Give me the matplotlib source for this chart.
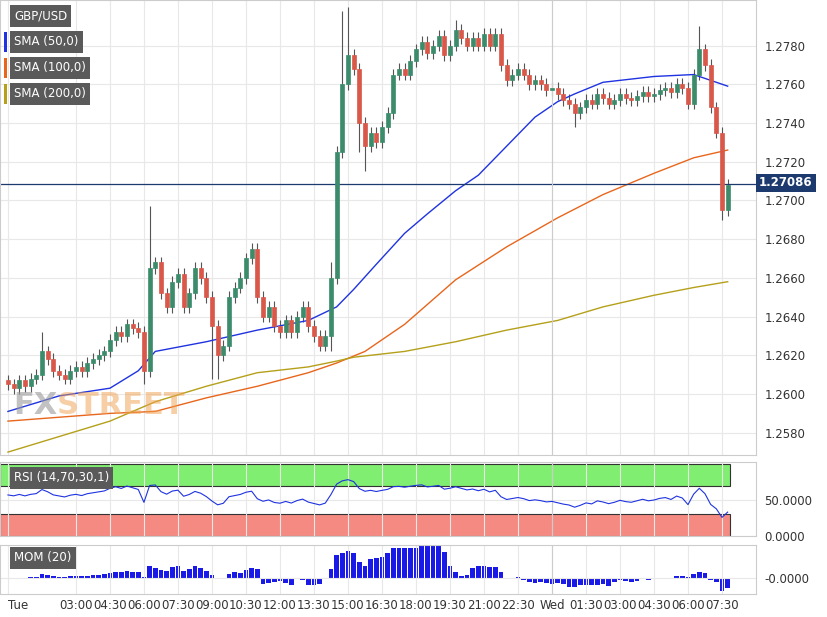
import matplotlib
matplotlib.use("Agg")
import matplotlib.pyplot as plt
import numpy as np
from matplotlib.patches import Rectangle

closes = [1.2605,1.2603,1.2607,1.2604,1.2608,1.2610,1.2622,1.2618,1.2612,1.2610,1.2608,1.2612,
 1.2614,1.2612,1.2616,1.2618,1.2620,1.2622,1.2628,1.2632,1.2630,1.2636,1.2634,1.2632,
 1.2612,1.2665,1.2668,1.2652,1.2645,1.2658,1.2662,1.2645,1.2652,1.2665,1.2660,1.2650,
 1.2635,1.2620,1.2625,1.2650,1.2655,1.2660,1.2670,1.2675,1.2650,1.2640,1.2645,1.2635,
 1.2632,1.2638,1.2632,1.2640,1.2645,1.2635,1.2630,1.2625,1.2630,1.2660,1.2725,1.2760,
 1.2775,1.2768,1.2740,1.2728,1.2735,1.2730,1.2738,1.2745,1.2765,1.2768,1.2765,1.2772,
 1.2778,1.2782,1.2776,1.2780,1.2785,1.2775,1.2780,1.2788,1.2784,1.2780,1.2784,1.2780,
 1.2786,1.2780,1.2786,1.2770,1.2762,1.2765,1.2768,1.2765,1.2760,1.2762,1.2760,1.2757,
 1.2758,1.2755,1.2752,1.2750,1.2745,1.2748,1.2752,1.2750,1.2755,1.2753,1.2750,1.2752,
 1.2755,1.2753,1.2752,1.2754,1.2756,1.2754,1.2755,1.2757,1.2758,1.2756,1.2760,1.2758,
 1.2750,1.2765,1.2778,1.2770,1.2748,1.2735,1.2695,1.2708]
open0 = 1.2607
high_over = {6:1.2632, 25:1.2697, 59:1.2798, 60:1.2800, 79:1.2793, 122:1.2790, 57:1.2668}
low_over = {24:1.2605, 36:1.2608, 37:1.2608, 62:1.2725, 63:1.2715, 100:1.2738, 126:1.2690, 57:1.2622}
wick = 0.0003

sma50_idx = [0,9,18,23,26,35,44,53,58,61,65,70,74,79,83,88,93,97,100,105,114,121,127]
sma50 = [1.2591,1.2599,1.2603,1.2612,1.2622,1.2627,1.2633,1.2638,1.2645,1.2654,1.2667,1.2683,1.2693,1.2705,1.2713,1.2728,1.2743,1.2751,1.2755,1.2761,1.2764,1.2765,1.2759]
sma100_idx = [0,9,18,26,35,44,53,58,63,70,79,88,97,105,114,121,127]
sma100 = [1.2586,1.2588,1.2590,1.2591,1.2598,1.2604,1.2611,1.2616,1.2622,1.2636,1.2659,1.2676,1.2691,1.2703,1.2714,1.2722,1.2726]
sma200_idx = [0,18,26,35,44,53,58,61,70,79,88,97,105,114,121,127]
sma200 = [1.2570,1.2586,1.2596,1.2604,1.2611,1.2614,1.2617,1.2619,1.2622,1.2627,1.2633,1.2638,1.2645,1.2651,1.2655,1.2658]

tick_idx = [0,12,18,24,30,36,42,48,54,60,66,72,78,84,90,96,102,108,114,120,126]
tick_lab = ["Tue","03:00","04:30","06:00","07:30","09:00","10:30","12:00","13:30","15:00","16:30",
            "18:00","19:30","21:00","22:30","Wed","01:30","03:00","04:30","06:00","07:30"]
last_price = 1.27086

W, H = 827, 617
fig = plt.figure(figsize=(W/100, H/100), dpi=100)
def ax_px(x0, y0, x1, y1):
    return fig.add_axes([x0/W, 1-y1/H, (x1-x0)/W, (y1-y0)/H])

UP, DN = "#3c8c6c", "#d9584a"
xlim = (-1.4, 132)
main = ax_px(0, 0, 756, 455)
rsi_ax = ax_px(0, 462, 756, 536)
mom_ax = ax_px(0, 545, 756, 594)

n = len(closes)
opens = [open0] + closes[:-1]
for i in range(n):
    o, c = opens[i], closes[i]
    hi = high_over.get(i, max(o, c) + wick)
    lo = low_over.get(i, min(o, c) - wick)
    col = UP if c >= o else DN
    main.vlines(i, lo, hi, color="#555555", lw=0.8, zorder=2)
    main.add_patch(Rectangle((i-0.35, min(o, c)), 0.7, max(abs(c-o), 0.00003),
                             facecolor=col, edgecolor=col, lw=0.5, zorder=3))
main.plot(sma50_idx, sma50, color="#1f33e0", lw=1)
main.plot(sma100_idx, sma100, color="#e8661c", lw=1)
main.plot(sma200_idx, sma200, color="#b5a01a", lw=1)
main.axhline(last_price, color="#1c3a6e", lw=0.9)
main.set_ylim(1.25685, 1.28035)
yt = np.arange(1.2580, 1.2781, 0.0020)
main.set_yticks(yt); main.set_yticklabels([f"{v:.4f}" for v in yt])
for ax in (main, rsi_ax, mom_ax):
    ax.yaxis.tick_right()
    ax.tick_params(axis="y", length=0, labelsize=8.5, colors="#333333", pad=6)
    ax.set_xticks(tick_idx)
    ax.grid(True, color="#e8e8e8", lw=0.8)
    ax.set_xlim(*xlim)
    for s in ax.spines.values(): s.set_color("#cccccc")
    ax.axvline(96, color="#cccccc", lw=0.8)
main.tick_params(axis="x", length=0, labelbottom=False)
rsi_ax.tick_params(axis="x", length=0, labelbottom=False)
mom_ax.tick_params(axis="x", length=0, labelsize=8.5, colors="#333333")
mom_ax.set_xticklabels(tick_lab)
mom_ax.get_xticklabels()[0].set_horizontalalignment("left")
mom_ax.get_xticklabels()[0].set_x(-1.2)

fig.text(759, H-183, f"{last_price:.5f}", transform=None, fontsize=8.5, color="white", weight="bold",
         va="center", ha="left", bbox=dict(boxstyle="square,pad=0.25", fc="#1c3a6e", ec="none"))

main.text(0.018, 0.09, "FX", transform=main.transAxes, fontsize=22, color="#9a9a9a", alpha=0.6, weight="bold")
main.text(0.075, 0.09, "STREET", transform=main.transAxes, fontsize=22, color="#f0a050", alpha=0.5, weight="bold")

legend = [("GBP/USD", None), ("SMA (50,0)", "#1f33e0"), ("SMA (100,0)", "#e8661c"), ("SMA (200,0)", "#b5a01a")]
for k, (lab, col) in enumerate(legend):
    y = H - (16 + k*26)
    fig.text(14, y, lab, transform=None, fontsize=8.5, color="white", va="center",
             bbox=dict(boxstyle="square,pad=0.35", fc="#5a5a5a", ec="none"))
    if col:
        fig.patches.append(Rectangle((4, y-10), 3, 20, transform=None, fc=col, ec="none", figure=fig))

# RSI
c = np.array(closes)
d = np.diff(c, prepend=open0)
gain = np.where(d > 0, d, 0); loss = np.where(d < 0, -d, 0)
ag = np.zeros(n); al = np.zeros(n)
ag[0], al[0] = 0.0004, 0.0003
for i in range(1, n):
    ag[i] = (ag[i-1]*13 + gain[i]) / 14
    al[i] = (al[i-1]*13 + loss[i]) / 14
rsi = 100 - 100/(1 + ag/np.maximum(al, 1e-9))
xm = (127.5-xlim[0])/(xlim[1]-xlim[0])
rsi_ax.axhspan(70, 100, xmin=0, xmax=xm, color="#80ee70", ec="#333333", lw=0.8)
rsi_ax.axhspan(0, 30, xmin=0, xmax=xm, color="#f58a82", ec="#333333", lw=0.8)
rsi_ax.plot(range(n), rsi, color="#1f33e0", lw=0.8)
rsi_ax.set_ylim(0, 103)
rsi_ax.set_yticks([0, 50]); rsi_ax.set_yticklabels(["0.0000", "50.0000"])
fig.text(14, H-478, "RSI (14,70,30,1)", transform=None, fontsize=8.5, color="white", va="center",
         bbox=dict(boxstyle="square,pad=0.35", fc="#5a5a5a", ec="none"))

# MOM
mom = np.array([c[i] - c[max(i-20, 0)] for i in range(n)])
mom_ax.bar(range(n), mom, width=0.8, color="#1a1ae8")
mom_ax.set_ylim(-0.0070, 0.0145)
mom_ax.set_yticks([0]); mom_ax.set_yticklabels(["-0.0000"])
fig.text(14, H-558, "MOM (20)", transform=None, fontsize=8.5, color="white", va="center",
         bbox=dict(boxstyle="square,pad=0.35", fc="#5a5a5a", ec="none"))

fig.savefig("out.png", dpi=100)
